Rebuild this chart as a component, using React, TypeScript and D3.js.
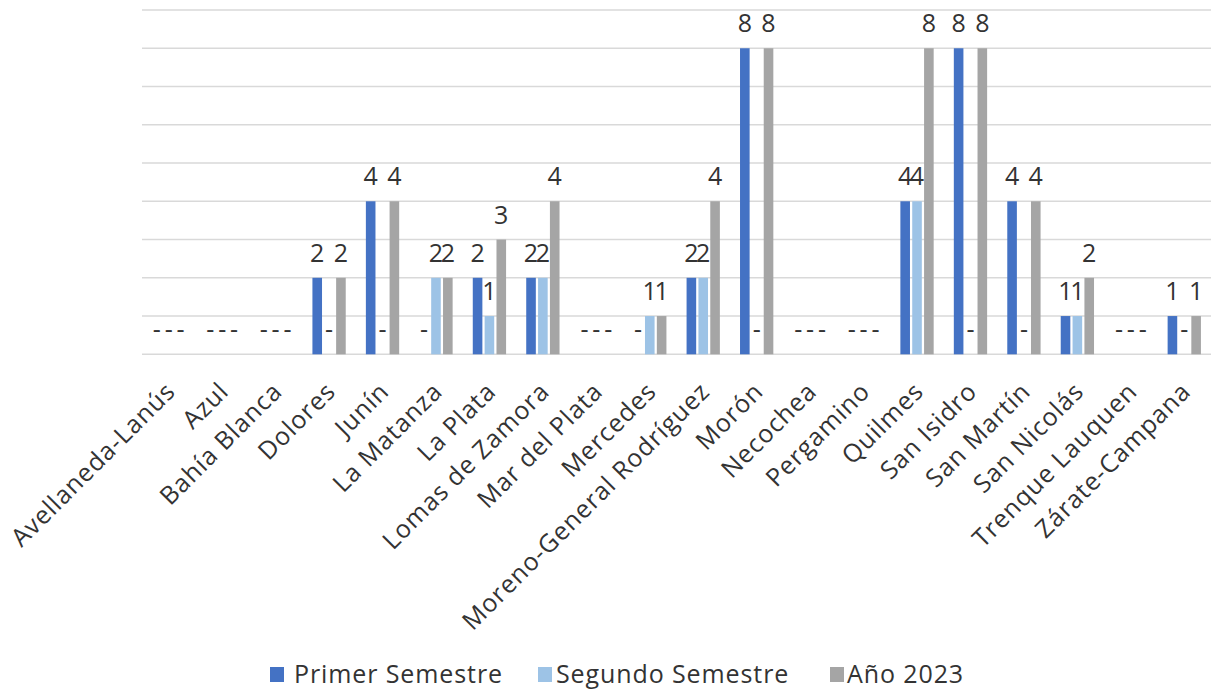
import React from "react";
import * as d3 from "d3";

const categories = [
  "Avellaneda-Lanús", "Azul", "Bahía Blanca", "Dolores", "Junín", "La Matanza",
  "La Plata", "Lomas de Zamora", "Mar del Plata", "Mercedes", "Moreno-General Rodríguez",
  "Morón", "Necochea", "Pergamino", "Quilmes", "San Isidro", "San Martín",
  "San Nicolás", "Trenque Lauquen", "Zárate-Campana",
];
const seriesNames = ["Primer Semestre", "Segundo Semestre", "Año 2023"];
const primerSemestre = [0, 0, 0, 2, 4, 0, 2, 2, 0, 0, 2, 8, 0, 0, 4, 8, 4, 1, 0, 1];
const segundoSemestre = [0, 0, 0, 0, 0, 2, 1, 2, 0, 1, 2, 0, 0, 0, 4, 0, 0, 1, 0, 0];
const anio2023 = [0, 0, 0, 2, 4, 2, 3, 4, 0, 1, 4, 8, 0, 0, 8, 8, 4, 2, 0, 1];
const seriesValues = [primerSemestre, segundoSemestre, anio2023];
const colors = ["#4472C4", "#9DC3E6", "#A5A5A5"];
const yTicks = [0, 1, 2, 3, 4, 5, 6, 7, 8, 9];

const W = 1214;
const H = 690;
const FONT = "'Open Sans', 'Liberation Sans', sans-serif";
const TEXT = "#333333";

export default function App() {
  const x0 = d3.scaleBand<string>().domain(categories).range([142, 1211]).paddingInner(0).paddingOuter(0);
  const x1 = d3.scaleBand<number>().domain([0, 1, 2]).range([0, x0.bandwidth()]).paddingInner(0.19).paddingOuter(0.85);
  const y = d3.scaleLinear().domain([0, 9]).range([354.3, 10]);

  const legendItems = [
    { name: seriesNames[0], sx: 270, tx: 294 },
    { name: seriesNames[1], sx: 538, tx: 556 },
    { name: seriesNames[2], sx: 830, tx: 847 },
  ];

  return (
    <svg width={W} height={H} style={{ position: "absolute", left: 0, top: 0, background: "#fff" }}>
      <g>
        {yTicks.map((t) => (
          <line key={t} x1={142} x2={1211} y1={y(t)} y2={y(t)} stroke="#d9d9d9" strokeWidth={1.6} />
        ))}
      </g>
      {categories.map((c, i) => (
        <g key={c} transform={`translate(${x0(c)},0)`}>
          {seriesValues.map((vals, s) => {
            const v = vals[i];
            const bx = x1(s)!;
            const bw = x1.bandwidth();
            return (
              <g key={s}>
                {v > 0 && (
                  <rect x={bx} y={y(v)} width={bw} height={y(0) - y(v)} fill={colors[s]} />
                )}
                <text
                  x={bx + bw / 2}
                  y={y(v) - 16}
                  textAnchor="middle"
                  fontFamily={FONT}
                  fontSize={25}
                  fill={TEXT}
                >
                  {v > 0 ? String(v) : "-"}
                </text>
              </g>
            );
          })}
        </g>
      ))}
      {categories.map((c) => {
        const cx = x0(c)! + x0.bandwidth() / 2;
        return (
          <text
            key={c}
            transform={`translate(${cx + 8},${393}) rotate(-45)`}
            textAnchor="end"
            fontFamily={FONT}
            fontSize={25}
            letterSpacing={0.9}
            fill={TEXT}
          >
            {c}
          </text>
        );
      })}
      {legendItems.map((it, k) => (
        <g key={it.name}>
          <rect x={it.sx} y={667} width={14} height={15} fill={colors[k]} />
          <text x={it.tx} y={683} fontFamily={FONT} fontSize={25} letterSpacing={0.9} fill={TEXT}>
            {it.name}
          </text>
        </g>
      ))}
    </svg>
  );
}
